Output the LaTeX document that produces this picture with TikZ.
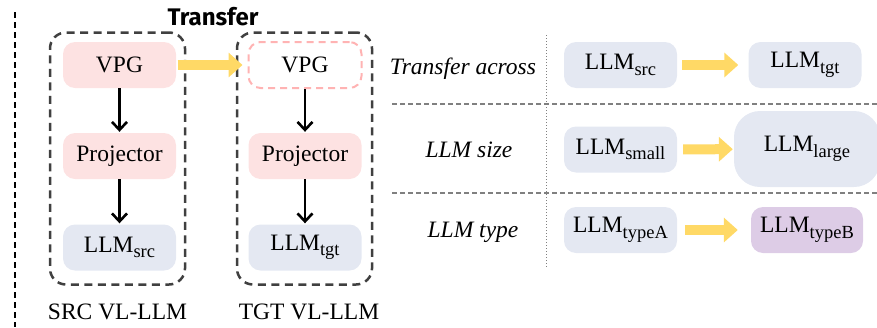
\documentclass[tikz,border=0pt]{standalone}
\usepackage{fontspec}
\setmainfont{Liberation Serif}
\newfontfamily\titlefont{Fira Sans}[UprightFont=* Bold]
\usetikzlibrary{arrows.meta}
\definecolor{pinkfill}{HTML}{FDE2E2}
\definecolor{pinkline}{HTML}{FFB3B3}
\definecolor{bluefill}{HTML}{E4E8F2}
\definecolor{purplefill}{HTML}{DDCCE6}
\definecolor{arrowyellow}{HTML}{FFD966}
\definecolor{boxline}{HTML}{404040}
\newcommand{\lsub}[1]{\raisebox{-5.5pt}{\fontsize{18.5}{18.5}\selectfont #1}}
\tikzset{
  lbl/.style={font=\fontsize{23.5}{23.5}\selectfont, inner sep=0pt},
  blk/.style={lbl, rectangle, rounded corners=12pt, minimum width=113pt, minimum height=46pt},
  pinkblk/.style={blk, fill=pinkfill},
  blueblk/.style={blk, fill=bluefill},
  ghostblk/.style={blk, draw=pinkline, line width=2pt, dash pattern=on 7pt off 5pt},
  group/.style={rectangle, rounded corners=16pt, draw=boxline, line width=2.5pt,
                dash pattern=on 8pt off 5.5pt, minimum width=135pt, minimum height=252pt},
  flow/.style={-{Straight Barb[length=8pt,width=15pt,line width=2.6pt]}, line width=2.6pt, shorten >=1pt},
  move/.style={-{Triangle[length=14pt,width=24pt]}, line width=10pt, draw=arrowyellow},
}
\begin{document}
\begin{tikzpicture}[x=1pt,y=-1pt]
  \useasboundingbox (0,0) rectangle (877,327);

  % left margin divider
  \coordinate (vt) at (15,12);
  \coordinate (vb) at (15,327);
  \draw[line width=2.5pt, dash pattern=on 6pt off 4pt] (vt) -- (vb);

  % source and target VL-LLM groups
  \node[group] (gs) at (117.5,158.5) {};
  \node[group] (gt) at (304.5,158.5) {};
  \node[font=\titlefont\fontsize{24}{24}\selectfont, inner sep=0pt] (title) at (213,17) {Transfer};

  \node[pinkblk]  (vpgs)  at (119.5,65)    {VPG};
  \node[pinkblk]  (projs) at (119.5,156)   {Projector};
  \node[blueblk]  (llms)  at (119.5,247.5) {LLM\lsub{src}};

  \node[ghostblk] (vpgt)  at (305,65)    {VPG};
  \node[pinkblk]  (projt) at (305,156)   {Projector};
  \node[blueblk]  (llmt)  at (305,247.5) {LLM\lsub{tgt}};

  \draw[flow] (vpgs) -- (projs);
  \draw[flow] (projs) -- (llms);
  \draw[flow] (vpgt) -- (projt);
  \draw[flow] (projt) -- (llmt);
  \draw[move, shorten <=1.5pt, shorten >=5pt] (vpgs) -- (vpgt);

  \node[lbl] (caps) at (117.5,312) {SRC VL-LLM};
  \node[lbl] (capt) at (309,312) {TGT VL-LLM};

  % table of transfer settings
  \coordinate (ct) at (546,35);
  \coordinate (cb) at (546,267);
  \draw[gray, line width=1pt, dotted] (ct) -- (cb);
  \coordinate (r1a) at (392,104);
  \coordinate (r1b) at (877,104);
  \coordinate (r2a) at (392,193);
  \coordinate (r2b) at (877,193);
  \draw[gray, line width=1.5pt, dash pattern=on 5pt off 3pt] (r1a) -- (r1b);
  \draw[gray, line width=1.5pt, dash pattern=on 5pt off 3pt] (r2a) -- (r2b);

  \node[lbl, font=\fontsize{23.5}{23.5}\selectfont\itshape] (h1) at (463,69)  {Transfer across};
  \node[lbl, font=\fontsize{23.5}{23.5}\selectfont\itshape] (h2) at (469,150) {LLM size};
  \node[lbl, font=\fontsize{23.5}{23.5}\selectfont\itshape] (h3) at (473,232) {LLM type};

  \node[blueblk] (a1) at (620.5,65) {LLM\lsub{src}};
  \node[blueblk] (a2) at (805,65)   {LLM\lsub{tgt}};
  \draw[move, shorten <=5pt, shorten >=10pt] (a1) -- (a2);

  \node[blueblk] (b1) at (620.5,149.5) {LLM\lsub{small}};
  \node[blueblk, minimum width=146pt, minimum height=76pt, rounded corners=26pt] (b2) at (807,149) {LLM\lsub{large}};
  \draw[move, shorten <=6pt, shorten >=1pt] (b1) -- (b2);

  \node[blueblk] (c1) at (620.5,230) {LLM\lsub{typeA}};
  \node[blk, fill=purplefill, minimum width=112pt] (c2) at (807,230) {LLM\lsub{typeB}};
  \draw[move, shorten <=8pt, shorten >=13pt] (c1) -- (c2);
\end{tikzpicture}
\end{document}
